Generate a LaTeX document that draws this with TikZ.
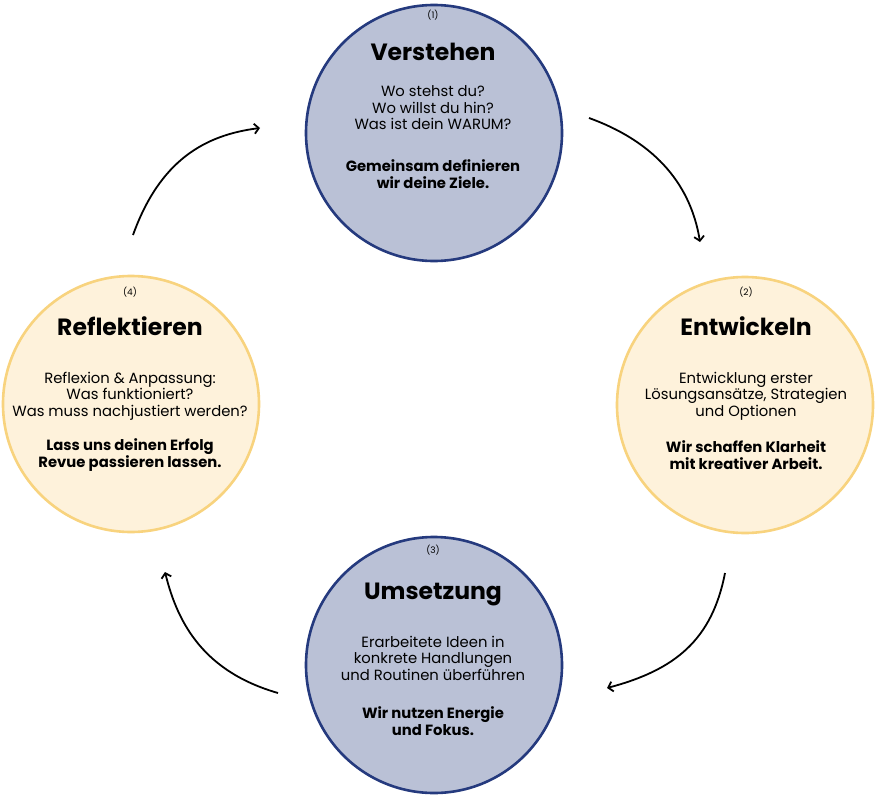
\documentclass[tikz,border=0pt]{standalone}
\usepackage{fontspec}
\setmainfont{Poppins}
\usetikzlibrary{arrows.meta}
\definecolor{navyLine}{HTML}{253A7E}
\definecolor{navyFill}{HTML}{BAC1D6}
\definecolor{sunLine}{HTML}{F8D37E}
\definecolor{sunFill}{HTML}{FEF2DB}

\begin{document}
\begin{tikzpicture}[x=1pt, y=-1pt]
  \tikzset{blueStep/.style={circle,draw=navyLine,fill=navyFill,line width=2.6pt,minimum size=256pt,inner sep=0pt},
           sunStep/.style={circle,draw=sunLine,fill=sunFill,line width=2.6pt,minimum size=256pt,inner sep=0pt},
           stepText/.style={align=center,inner sep=0pt,anchor=center},
           stepNum/.style={stepText,font=\fontsize{9}{11}\selectfont},
           stepTitle/.style={stepText,font=\fontsize{23.5}{27}\selectfont\bfseries},
           stepBody/.style={stepText,font=\fontsize{14.8}{16.5}\selectfont},
           stepBold/.style={stepText,font=\fontsize{14.8}{16.5}\selectfont\bfseries},
           loopArrow/.style={line width=1.8pt,-{Straight Barb[length=4.5pt,width=10pt]}}}
  \useasboundingbox (0,0) rectangle (875,795);
  % circles
  \node[blueStep] (c1) at (434,133) {};
  \node[sunStep]  (c2) at (745,405) {};
  \node[blueStep] (c3) at (434,665) {};
  \node[sunStep]  (c4) at (131,404) {};
  % (1)
  \node[stepNum]   (c1n) at (433,15)  {(1)};
  \node[stepTitle] (c1t) at (433,52)  {Verstehen};
  \node[stepBody]  (c1b) at (433,108) {Wo stehst du?\\Wo willst du hin?\\Was ist dein WARUM?};
  \node[stepBold]  (c1f) at (433,174) {Gemeinsam definieren\\wir deine Ziele.};
  % (2)
  \node[stepNum]   (c2n) at (746,292) {(2)};
  \node[stepTitle] (c2t) at (746,326) {Entwickeln};
  \node[stepBody]  (c2b) at (746,396) {Entwicklung erster\\Lösungsansätze, Strategien\\und Optionen};
  \node[stepBold]  (c2f) at (746,455) {Wir schaffen Klarheit\\mit kreativer Arbeit.};
  % (3)
  \node[stepNum]   (c3n) at (433,550) {(3)};
  \node[stepTitle] (c3t) at (433,594) {Umsetzung};
  \node[stepBody]  (c3b) at (433,658) {Erarbeitete Ideen in\\konkrete Handlungen\\und Routinen überführen};
  \node[stepBold]  (c3f) at (433,721) {Wir nutzen Energie\\und Fokus.};
  % (4)
  \node[stepNum]   (c4n) at (130,292) {(4)};
  \node[stepTitle] (c4t) at (130,326) {Reflektieren};
  \node[stepBody]  (c4b) at (130,396) {Reflexion \& Anpassung:\\Was funktioniert?\\Was muss nachjustiert werden?};
  \node[stepBold]  (c4f) at (130,455) {Lass uns deinen Erfolg\\Revue passieren lassen.};
  % arrows
  \coordinate (a1s) at (589,118);  \coordinate (a1e) at (700,242);
  \coordinate (a2s) at (725,573);  \coordinate (a2e) at (607,688);
  \coordinate (a3s) at (278,693);  \coordinate (a3e) at (165,572);
  \coordinate (a4s) at (133,235);  \coordinate (a4e) at (260,128);
  \draw[loopArrow] (a1s) .. controls (650,140) and (690,180) .. (a1e);
  \draw[loopArrow] (a2s) .. controls (712,640) and (675,670) .. (a2e);
  \draw[loopArrow] (a3s) .. controls (205,672) and (178,625) .. (a3e);
  \draw[loopArrow] (a4s) .. controls (160,160) and (205,135) .. (a4e);
\end{tikzpicture}
\end{document}
